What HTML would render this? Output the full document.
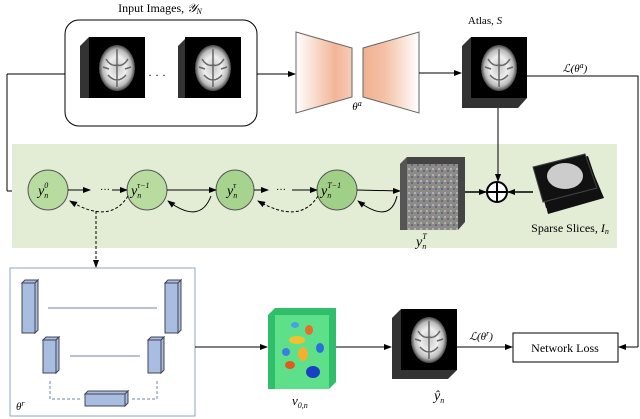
<!DOCTYPE html>
<html><head><meta charset="utf-8"><style>
body{margin:0;background:#fff;}
svg{display:block;font-family:"Liberation Serif",serif;}
</style></head><body>
<svg width="640" height="419" viewBox="0 0 640 419" xmlns="http://www.w3.org/2000/svg">
<defs>
<marker id="a" markerWidth="8" markerHeight="8" refX="7" refY="4" orient="auto" markerUnits="userSpaceOnUse"><path d="M0,1 L8,4 L0,7 z" fill="#000"/></marker>
<linearGradient id="tl" x1="0" x2="1"><stop offset="0" stop-color="#fff"/><stop offset="0.7" stop-color="#f2b597"/><stop offset="1" stop-color="#f6cdb8"/></linearGradient>
<linearGradient id="tr" x1="0" x2="1"><stop offset="0" stop-color="#f0b090"/><stop offset="0.4" stop-color="#f4c2a8"/><stop offset="1" stop-color="#fff"/></linearGradient>
<radialGradient id="br" cx="0.5" cy="0.5" r="0.5"><stop offset="0" stop-color="#c8c8c8"/><stop offset="0.5" stop-color="#eee"/><stop offset="0.8" stop-color="#bbb"/><stop offset="1" stop-color="#444"/></radialGradient>
<pattern id="nz" width="6" height="6" patternUnits="userSpaceOnUse"><rect width="6" height="6" fill="#8a8a8a"/><rect x="0" y="0" width="2" height="2" fill="#b0b0b0"/><rect x="3" y="2" width="2" height="2" fill="#6a6a7a"/><rect x="1" y="4" width="2" height="2" fill="#9a8484"/><rect x="4" y="4" width="2" height="1" fill="#7a9a7a"/></pattern>
<g id="brain"><rect x="0" y="0" width="56" height="61" fill="#000"/><ellipse cx="28" cy="31" rx="18" ry="23" fill="url(#br)"/><path d="M28,12 L28,50 M17,22 Q22,30 28,28 Q34,30 39,22 M19,38 Q28,48 37,38 M14,30 L20,32 M42,30 L36,32" stroke="#666" stroke-width="1.5" fill="none"/></g>
</defs>

<!-- top -->
<text x="160" y="12" font-size="12" text-anchor="middle">Input Images, <tspan font-style="italic">𝒴</tspan><tspan font-size="8" dy="2" font-style="italic">N</tspan></text>
<rect x="65" y="20" width="192" height="106" rx="14" fill="#fff" stroke="#000" stroke-width="1"/>
<polygon points="80,46 89,37 145,37 145,98 136,98 80,98" fill="#333"/>
<use href="#brain" x="89" y="37"/>
<polygon points="178,46 187,37 241,37 241,98 232,98 178,98" fill="#333"/>
<use href="#brain" x="185" y="37"/>
<text x="157" y="79" font-size="12" text-anchor="middle">· · ·</text>

<line x1="7" y1="74" x2="65" y2="74" stroke="#000"/>
<line x1="7" y1="74" x2="7" y2="191" stroke="#000"/>
<line x1="7" y1="191" x2="27" y2="191" stroke="#000" marker-end="url(#a)"/>
<line x1="257" y1="74" x2="295" y2="74" stroke="#000" marker-end="url(#a)"/>
<polygon points="296,32 352,48 352,97 296,113" fill="url(#tl)" stroke="#666"/>
<polygon points="363,48 419,32 419,113 363,97" fill="url(#tr)" stroke="#666"/>
<text x="357" y="110" font-size="11" font-style="italic" text-anchor="middle">θ<tspan font-size="8" dy="-4">a</tspan></text>
<line x1="419" y1="73" x2="461" y2="73" stroke="#000" marker-end="url(#a)"/>
<text x="485" y="24" font-size="11" text-anchor="middle">Atlas, <tspan font-style="italic">S</tspan></text>
<polygon points="462,46 471,37 527,37 527,98 518,108 462,108" fill="#333"/>
<use href="#brain" x="471" y="37"/>
<text x="575" y="72" font-size="11" text-anchor="middle" font-style="italic">ℒ(θ<tspan font-size="8" dy="-4">a</tspan><tspan dy="4">)</tspan></text>
<polyline points="527,76 638,76 638,347" fill="none" stroke="#000"/>
<line x1="638" y1="347" x2="619" y2="347" stroke="#000" marker-end="url(#a)"/>

<!-- green band -->
<rect x="12" y="144" width="605" height="104" fill="#e3edd6"/>
<line x1="498" y1="108" x2="498" y2="181" stroke="#000" marker-end="url(#a)"/>
<g fill="#b8dba0" stroke="#555">
<ellipse cx="48" cy="190" rx="20" ry="20"/>
<ellipse cx="147" cy="190" rx="20" ry="20"/>
<ellipse cx="235" cy="190" rx="19" ry="20" fill="#a6d38d"/>
<ellipse cx="337" cy="190" rx="20" ry="20" fill="#a0cf88"/>
</g>
<g font-size="14" font-style="italic">
<text x="38" y="195">y<tspan font-size="8" dy="3">n</tspan><tspan font-size="8" dx="-4" dy="-10">0</tspan></text>
<text x="131" y="195">y<tspan font-size="8" dy="3">n</tspan><tspan font-size="8" dx="-4" dy="-10">τ−1</tspan></text>
<text x="227" y="195">y<tspan font-size="8" dy="3">n</tspan><tspan font-size="8" dx="-4" dy="-10">τ</tspan></text>
<text x="321" y="195">y<tspan font-size="8" dy="3">n</tspan><tspan font-size="8" dx="-4" dy="-10">T−1</tspan></text>
<text x="416" y="246">y<tspan font-size="8" dy="3">n</tspan><tspan font-size="8" dx="-4" dy="-10">T</tspan></text>
</g>
<line x1="68" y1="190" x2="90" y2="190" stroke="#000" marker-end="url(#a)"/>
<text x="100" y="193" font-size="10">···</text>
<line x1="112" y1="190" x2="127" y2="190" stroke="#000" marker-end="url(#a)"/>
<line x1="167" y1="190" x2="216" y2="190" stroke="#000" marker-end="url(#a)"/>
<line x1="254" y1="190" x2="268" y2="190" stroke="#000" marker-end="url(#a)"/>
<text x="276" y="193" font-size="10">···</text>
<line x1="292" y1="190" x2="317" y2="190" stroke="#000" marker-end="url(#a)"/>
<line x1="357" y1="190" x2="400" y2="191" stroke="#000" marker-end="url(#a)"/>
<path d="M128,196 Q110,225 70,201" fill="none" stroke="#000" stroke-dasharray="3,2" marker-end="url(#a)"/>
<path d="M211,196 Q200,225 168,201" fill="none" stroke="#000" marker-end="url(#a)"/>
<path d="M318,196 Q300,225 258,201" fill="none" stroke="#000" stroke-dasharray="3,2" marker-end="url(#a)"/>
<path d="M397,196 Q390,225 358,201" fill="none" stroke="#000" marker-end="url(#a)"/>
<polygon points="400,164 407,157 465,157 465,222 458,230 400,230" fill="#444"/>
<rect x="407" y="164" width="51" height="66" fill="url(#nz)"/>
<polygon points="400,164 407,157 407,230 400,230" fill="#555"/>
<line x1="465" y1="192" x2="486" y2="192" stroke="#000" stroke-width="1.5" marker-end="url(#a)"/>
<circle cx="497" cy="192" r="10" fill="#fff" stroke="#000" stroke-width="2"/>
<line x1="487" y1="192" x2="507" y2="192" stroke="#000" stroke-width="2"/>
<line x1="497" y1="182" x2="497" y2="202" stroke="#000" stroke-width="2"/>
<line x1="533" y1="192" x2="508" y2="192" stroke="#000" stroke-width="1.5" marker-end="url(#a)"/>
<polygon points="538,175 588,160 604,198 548,214" fill="#111"/>
<polygon points="536,170 588,156 600,192 546,208" fill="#111"/>
<polygon points="533,167 585,154 597,188 543,202" fill="#111" stroke="#444"/>
<ellipse cx="565" cy="176" rx="18" ry="13" fill="#ccc"/>
<text x="570" y="232" font-size="12" text-anchor="middle">Sparse Slices, <tspan font-style="italic">I</tspan><tspan font-size="8" dy="2" font-style="italic">n</tspan></text>
<line x1="96" y1="211" x2="96" y2="267" stroke="#000" stroke-dasharray="3,2" marker-end="url(#a)"/>

<!-- bottom -->
<rect x="10" y="268" width="185" height="148" fill="#fff" stroke="#8fa6bf"/>
<g fill="#a9bde0" stroke="#445">
<rect x="22" y="283" width="13" height="50"/><polygon points="22,283 25,280 38,280 35,283"/><polygon points="35,283 38,280 38,330 35,333"/>
<rect x="165" y="283" width="13" height="50"/><polygon points="165,283 168,280 181,280 178,283"/><polygon points="178,283 181,280 181,330 178,333"/>
<rect x="43" y="340" width="13" height="33"/><polygon points="43,340 46,337 59,337 56,340"/><polygon points="56,340 59,337 59,370 56,373"/>
<rect x="148" y="340" width="13" height="33"/><polygon points="148,340 151,337 164,337 161,340"/><polygon points="161,340 164,337 164,370 161,373"/>
<rect x="85" y="394" width="40" height="12"/><polygon points="85,394 88,391 128,391 125,394"/><polygon points="125,394 128,391 128,403 125,406"/>
</g>
<line x1="48" y1="308" x2="157" y2="308" stroke="#6f87a8"/>
<line x1="70" y1="356" x2="140" y2="356" stroke="#6f87a8"/>
<polyline points="50,381 50,399 80,399" fill="none" stroke="#6f87a8" stroke-dasharray="3,2"/>
<polyline points="132,399 157,399 157,381" fill="none" stroke="#6f87a8" stroke-dasharray="3,2"/>
<text x="16" y="410" font-size="11" font-style="italic">θ<tspan font-size="8" dy="-4">r</tspan></text>
<line x1="195" y1="347" x2="267" y2="347" stroke="#000" marker-end="url(#a)"/>
<polygon points="268,315 275,308 336,308 336,382 329,389 268,389" fill="#2fbf6a"/>
<rect x="275" y="315" width="54" height="74" fill="#5ee08a"/>
<g>
<ellipse cx="297" cy="340" rx="8" ry="4" fill="#f2c030"/><ellipse cx="309" cy="330" rx="4" ry="5" fill="#e0702a"/>
<ellipse cx="303" cy="354" rx="5" ry="7" fill="#f0b030"/><ellipse cx="290" cy="365" rx="5" ry="4" fill="#e05a20"/>
<ellipse cx="313" cy="372" rx="7" ry="6" fill="#1840c0"/><ellipse cx="286" cy="352" rx="4" ry="4" fill="#3a80e0"/>
<ellipse cx="320" cy="348" rx="4" ry="5" fill="#2a70d8"/><ellipse cx="295" cy="325" rx="4" ry="3" fill="#4aa0e8"/>
</g>
<text x="292" y="405" font-size="13" font-style="italic">v<tspan font-size="8" dy="3">0,n</tspan></text>
<line x1="336" y1="347" x2="391" y2="347" stroke="#000" marker-end="url(#a)"/>
<polygon points="392,318 401,309 457,309 457,370 448,379 392,379" fill="#333"/>
<use href="#brain" x="401" y="309"/>
<text x="434" y="400" font-size="14" font-style="italic">ŷ<tspan font-size="8" dy="3">n</tspan></text>
<line x1="457" y1="347" x2="512" y2="347" stroke="#000" marker-end="url(#a)"/>
<text x="481" y="340" font-size="11" font-style="italic" text-anchor="middle">ℒ(θ<tspan font-size="8" dy="-4">r</tspan><tspan dy="4">)</tspan></text>
<rect x="513" y="333" width="105" height="29" fill="#fff" stroke="#000"/>
<text x="565" y="352" font-size="12" text-anchor="middle">Network Loss</text>
</svg>
</body></html>
